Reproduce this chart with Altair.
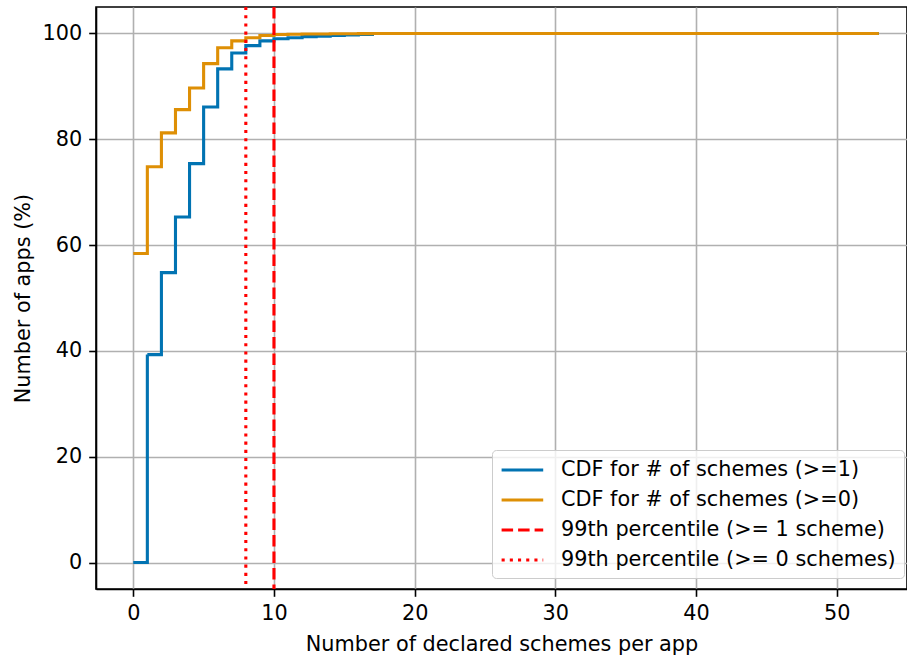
import altair as alt
import pandas as pd

# ---- data ----
x_steps = list(range(18)) + [53]
cdf_ge1 = [0.0, 39.3, 54.8, 65.3, 75.4, 86.1, 93.3, 96.3, 97.7, 98.6, 99.0,
           99.2, 99.4, 99.5, 99.6, 99.7, 99.8, 100.0, 100.0]
cdf_ge0 = [58.4, 74.8, 81.2, 85.6, 89.7, 94.3, 97.3, 98.6, 99.2, 99.6, 99.8,
           99.85, 99.9, 99.9, 99.95, 99.95, 99.97, 100.0, 100.0]
series_labels = [
    "CDF for # of schemes (>=1)",
    "CDF for # of schemes (>=0)",
    "99th percentile (>= 1 scheme)",
    "99th percentile (>= 0 schemes)",
]
percentile_x = [10, 8]
x_ticks = [0, 10, 20, 30, 40, 50]
y_ticks = [0, 20, 40, 60, 80, 100]

rows = []
for x, v in zip(x_steps, cdf_ge1):
    rows.append({"x": x, "y": v, "series": series_labels[0]})
for x, v in zip(x_steps, cdf_ge0):
    rows.append({"x": x, "y": v, "series": series_labels[1]})
df_cdf = pd.DataFrame(rows)
df_p = pd.DataFrame({"x": percentile_x, "series": series_labels[2:]})

FONT = "DejaVu Sans"
FS = 20.8

legend = alt.Legend(
    title=None, orient="none", legendX=396, legendY=443,
    symbolType="M-1,0H3", symbolSize=433, symbolStrokeWidth=3.1,
    labelFontSize=FS, labelFont=FONT, labelColor="black", labelLimit=600,
    labelOffset=37, fillColor="rgba(255,255,255,0.8)", strokeColor="#cccccc",
    cornerRadius=4, padding=8, rowPadding=8,
)
color = alt.Color("series:N", scale=alt.Scale(
    domain=series_labels, range=["#0173B2", "#DE8F05", "#FF0000", "#FF0000"]),
    legend=legend)
dash = alt.StrokeDash("series:N", scale=alt.Scale(
    domain=series_labels, range=[[1, 0], [1, 0], [11.5, 5], [3.1, 5.1]]),
    legend=legend)

xenc = alt.X("x:Q", scale=alt.Scale(domain=[-2.65, 55.0], nice=False, zero=False),
             axis=alt.Axis(values=x_ticks, title="Number of declared schemes per app"))
yenc = alt.Y("y:Q", scale=alt.Scale(domain=[-5, 105], nice=False, zero=False),
             axis=alt.Axis(values=y_ticks, title="Number of apps (%)"))

base = alt.Chart(df_cdf)
blue = base.transform_filter(alt.datum.series == series_labels[0]).mark_line(
    interpolate="step-after", strokeWidth=3.1, clip=True
).encode(x=xenc, y=yenc, color=color, strokeDash=dash)
orange = base.transform_filter(alt.datum.series == series_labels[1]).mark_line(
    interpolate="step-after", strokeWidth=3.1, clip=True
).encode(x=xenc, y=yenc, color=color, strokeDash=dash)
rules = alt.Chart(df_p).mark_rule(strokeWidth=3.1).encode(
    x=alt.X("x:Q"), color=color, strokeDash=dash)

chart = alt.layer(blue, orange, rules).properties(
    width=811, height=582,
    autosize=alt.AutoSizeParams(type="none"),
    padding={"left": 96, "top": 7, "right": 0, "bottom": 67},
).configure_view(
    stroke="black", strokeWidth=1.6
).configure_axis(
    labelFont=FONT, labelFontSize=FS, labelColor="black", labelPadding=7,
    titleFont=FONT, titleFontSize=FS, titleColor="black", titleFontWeight="normal",
    domainColor="black", domainWidth=1.6, tickColor="black", tickWidth=1.6,
    tickSize=7.3, gridColor="#b0b0b0", gridWidth=1.6,
).configure_axisY(titlePadding=9).configure_axisX(titlePadding=11)

chart.save("out.html", embed_options={"renderer": "svg", "actions": False})
